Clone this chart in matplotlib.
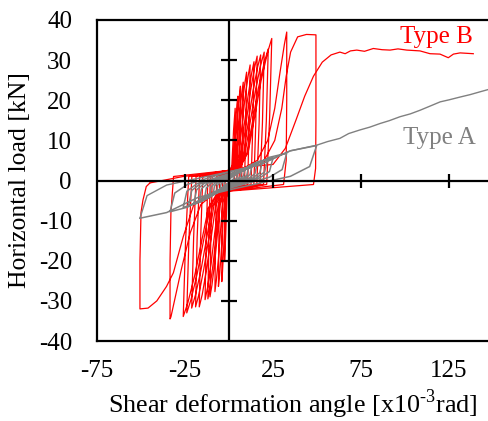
import matplotlib.pyplot as plt
from matplotlib import rcParams

rcParams['font.family'] = ['Liberation Serif', 'DejaVu Serif']
rcParams['font.size'] = 18
rcParams['axes.unicode_minus'] = False

# Type B (red): cyclic record, one row per cycle (disp x10^-3 rad, load kN)
typeB_disp = [0,
    0.9, 1.6, 2.1, 2.6, 3.2, 3.5, 3.3, 3.1, -0.6, -1.1, -1.5, -1.9, -2.3, -2.5, -2.4, -2.2,
    1.3, 2.3, 3.0, 3.8, 4.5, 5.0, 4.8, 4.4, -1.0, -1.8, -2.5, -3.1, -3.7, -4.1, -3.9, -3.6,
    1.6, 2.9, 3.9, 4.9, 5.9, 6.5, 6.2, 5.7, -1.5, -2.7, -3.6, -4.5, -5.4, -6.0, -5.7, -5.3,
    2.0, 3.6, 4.9, 6.1, 7.3, 8.1, 7.7, 7.1, -2.0, -3.6, -4.8, -6.0, -7.2, -8.0, -7.6, -7.0,
    2.5, 4.5, 6.0, 7.5, 9.0, 10.0, 9.5, 8.8, -2.7, -4.9, -6.5, -8.1, -9.7, -10.8, -10.3, -9.5,
    3.0, 5.4, 7.2, 9.0, 10.8, 12.0, 11.4, 10.6, -3.0, -5.4, -7.2, -9.0, -10.8, -12.0, -11.4, -10.6,
    3.6, 6.4, 8.5, 10.7, 12.8, 14.2, 13.5, 12.5, -3.4, -6.1, -8.2, -10.2, -12.2, -13.6, -12.9, -12.0,
    4.0, 7.2, 9.6, 12.0, 14.4, 16.0, 15.2, 14.1, -4.2, -7.6, -10.1, -12.7, -15.2, -16.9, -16.1, -14.9,
    4.5, 8.1, 10.8, 13.5, 16.2, 18.0, 17.1, 15.8, -4.8, -8.6, -11.4, -14.3, -17.1, -19.0, -18.1, -16.7,
    5.0, 9.0, 12.0, 15.0, 18.0, 20.0, 19.0, 17.6, -5.3, -9.5, -12.7, -15.9, -19.1, -21.2, -20.1, -18.7,
    5.6, 10.0, 13.4, 16.7, 20.1, 22.3, 21.2, 19.6, -6.0, -10.8, -14.4, -18.0, -21.6, -24.0, -22.8, -21.1,
    6.1, 10.9, 14.6, 18.2, 21.9, 24.3, 23.1, 21.4, -6.5, -11.7, -15.6, -19.5, -23.4, -26.0, -24.7, -22.9,
    8, 16, 22, 26, 29, 31.5, 32.8, 32.8, 32.5, 31, -8, -16, -22, -27, -31, -33, -33.5, -33.5, -33, -31.5,
    10, 20, 26, 30, 32.5, 35, 39, 44, 49.4, 49.4, 49.2, 48, -10, -20, -26, -31.6, -35.5, -41, -46, -50.6,
    -50.6, -50.0, -48.9, -47.0, -44.9]
typeB_load = [0,
    3, 3.6, 8.1, 12.6, 16.2, 18, 8.1, -1, -3, -4, -9, -14, -18, -20, -9, 1,
    3, 4.2, 9.5, 14.7, 18.9, 21, 9.5, -1, -3, -5, -11.3, -17.6, -22.7, -25.2, -11.3, 1,
    3, 4.7, 10.6, 16.5, 21.2, 23.5, 10.6, -1, -3, -5.3, -11.9, -18.5, -23.8, -26.4, -11.9, 1,
    3, 4.9, 11, 17.2, 22, 24.5, 11, -1, -3, -5.5, -12.5, -19.4, -24.9, -27.7, -12.5, 1,
    3, 5.4, 12.2, 18.9, 24.3, 27, 12.2, -1, -3, -5.8, -13, -20.3, -26.1, -29, -13, 1,
    3, 5.8, 13, 20.2, 25.9, 28.8, 13, -1, -3, -5.9, -13.3, -20.7, -26.6, -29.5, -13.3, 1,
    3, 5.9, 13.3, 20.7, 26.6, 29.6, 13.3, -1, -3, -5.9, -13.4, -20.8, -26.7, -29.7, -13.4, 1,
    3, 6.2, 14, 21.7, 27.9, 31, 14, -1, -3, -6.3, -14.2, -22, -28.4, -31.5, -14.2, 1,
    3, 6.3, 14.1, 21.9, 28.2, 31.3, 14.1, -1, -3, -6.3, -14.2, -22, -28.4, -31.5, -14.2, 1,
    3, 6.4, 14.4, 22.4, 28.8, 32, 14.4, -1, -3, -6.4, -14.3, -22.3, -28.6, -31.8, -14.3, 1,
    3, 6.6, 14.8, 23, 29.5, 32.8, 14.8, -1, -3, -6.6, -14.9, -23.1, -29.7, -33, -14.9, 1,
    3, 7.1, 15.9, 24.8, 31.9, 35.4, 15.9, -1, -3, -6.8, -15.3, -23.7, -30.5, -33.9, -15.3, 1,
    3, 5, 10, 18, 27, 34, 37, 20, 5, -1, -3, -6, -13, -22, -30, -34, -34.5, -20, -8, 1,
    3, 5, 10, 18, 26, 32, 35.8, 36.4, 36.3, 15, 3, -1, -3, -6, -14, -23, -26.4, -30, -31.8, -32,
    -20, -8, -4.9, -1.5, -0.6]

# Type B final monotonic push
typeB_push_disp = [-44.9, -26, 0, 12, 25, 32, 38, 43, 48, 53, 58, 63, 66, 69, 72.6, 77, 82,
                   87, 91.5, 96, 101, 108.5, 114.2, 119.9, 124.6, 127.5, 131.3, 138.8]
typeB_push_load = [-0.6, 1, 2.5, 3.5, 4, 8, 15, 21, 26, 29.5, 31.3, 32, 31.6, 32.3, 32.5, 32.2, 32.9,
                   32.6, 32.5, 32.8, 32.5, 32.3, 31.6, 31.5, 30.6, 31.5, 31.8, 31.6]

# Type A (gray): cyclic record
typeA_disp = [0,
    1.05, 2.1, 3, 2.76, 2.1, 0, -1.05, -2.1, -3,
    -2.76, -2.1, 0, 1.75, 3.5, 5, 4.6, 3.5, 0, -1.75, -3.5, -5,
    -4.6, -3.5, 0, 2.45, 4.9, 7, 6.44, 4.9, 0, -2.45, -4.9, -7,
    -6.44, -4.9, 0, 3.15, 6.3, 9, 8.28, 6.3, 0, -3.15, -6.3, -9,
    -8.28, -6.3, 0, 3.85, 7.7, 11, 10.12, 7.7, 0, -3.85, -7.7, -11,
    -10.12, -7.7, 0, 4.55, 9.1, 13, 11.96, 9.1, 0, -4.9, -9.8, -14,
    -12.88, -9.8, 0, 5.6, 11.2, 16, 14.72, 11.2, 0, -5.95, -11.9, -17,
    -15.64, -11.9, 0, 6.65, 13.3, 19, 17.48, 13.3, 0, -7, -14, -20,
    -18.4, -14, 0, 7.7, 15.4, 22, 20.24, 15.4, 0, -8.05, -16.1, -23,
    -21.16, -16.1, 0, 8.75, 17.5, 25, 23, 17.5, 0, -9.1, -18.2, -26,
    -23.92, -18.2, 0, 11.48, 22.96, 32.8, 30.18, 22.96, 0, -11.73, -23.45, -33.5,
    -30.82, -23.45, 0, 17.43, 34.86, 49.8, 45.82, 34.86, 0, -17.71, -35.42, -50.6]
typeA_load = [0,
    0.68, 1.28, 1.5, 0.6, 0.18, -0.45, -0.81, -1.53, -1.8,
    -0.72, -0.22, 0.5, 0.9, 1.7, 2, 0.8, 0.24, -0.63, -1.13, -2.13, -2.5,
    -1.0, -0.3, 0.63, 1.13, 2.13, 2.5, 1.0, 0.3, -0.75, -1.35, -2.55, -3,
    -1.2, -0.36, 0.75, 1.35, 2.55, 3, 1.2, 0.36, -0.88, -1.58, -2.98, -3.5,
    -1.4, -0.42, 0.83, 1.49, 2.81, 3.3, 1.32, 0.4, -1.0, -1.8, -3.4, -4,
    -1.6, -0.48, 0.93, 1.67, 3.15, 3.7, 1.48, 0.44, -1.15, -2.07, -3.91, -4.6,
    -1.84, -0.55, 1.05, 1.89, 3.57, 4.2, 1.68, 0.5, -1.3, -2.34, -4.42, -5.2,
    -2.08, -0.62, 1.2, 2.16, 4.08, 4.8, 1.92, 0.58, -1.45, -2.61, -4.93, -5.8,
    -2.32, -0.7, 1.33, 2.39, 4.5, 5.3, 2.12, 0.64, -1.55, -2.79, -5.27, -6.2,
    -2.48, -0.74, 1.4, 2.52, 4.76, 5.6, 2.24, 0.67, -1.68, -3.02, -5.7, -6.7,
    -2.68, -0.8, 1.7, 3.06, 5.78, 6.8, 2.72, 0.82, -1.95, -3.51, -6.63, -7.8,
    -3.12, -0.94, 2.18, 3.92, 7.4, 8.7, 3.48, 1.04, -2.35, -4.23, -7.99, -9.4]

# Type A final monotonic push
typeA_push_disp = [-50.6, -46.55, -35.42, 0, 17.43, 34.86, 49.8, 56, 63, 68, 74.4, 80, 85.8, 91,
                   97.2, 103, 108.5, 114, 120, 125, 131.3, 137, 142.6, 150]
typeA_push_load = [-9.4, -3.76, -1.13, 2.18, 3.92, 7.4, 8.8, 9.7, 10.5, 11.7, 12.6, 13.3, 14.2, 14.9,
                   15.9, 16.6, 17.5, 18.5, 19.6, 20.1, 20.8, 21.4, 22.1, 23]

x_ticks = [-75, -25, 25, 75, 125]
y_ticks = [-40, -30, -20, -10, 0, 10, 20, 30, 40]

fig = plt.figure(figsize=(4.89, 4.21), dpi=100)
ax = fig.add_axes([97 / 489, 80 / 421, 396 / 489, 321 / 421])

ax.plot(typeB_disp, typeB_load, color='#ff0000', lw=0.9)
ax.plot(typeB_push_disp, typeB_push_load, color='#ff0000', lw=0.9)
ax.plot(typeA_disp, typeA_load, color='#808080', lw=1.1)
ax.plot(typeA_push_disp, typeA_push_load, color='#808080', lw=1.0)

# axes through the origin with crossing tick marks
ax.axhline(0, color='k', lw=1.6, zorder=4)
ax.axvline(0, color='k', lw=1.6, zorder=4)
ax.plot(x_ticks[1:], [0] * 4, ls='none', marker='|', ms=10, mew=1.6, color='k', zorder=4)
ax.plot([0] * 6, [-30, -20, -10, 10, 20, 30], ls='none', marker='_', ms=11, mew=1.6, color='k', zorder=4)

ax.set_xlim(-75, 150)
ax.set_ylim(-40, 40)
ax.set_xticks(x_ticks)
ax.set_yticks(y_ticks)
ax.tick_params(length=0, labelsize=18)
ax.tick_params(axis='y', pad=18)
ax.tick_params(axis='x', pad=14)
for s in ['left', 'top', 'bottom']:
    ax.spines[s].set_linewidth(1.6)
ax.spines['right'].set_visible(False)

fig.text(293 / 489, 8 / 421, 'Shear deformation angle [x10$^{\\mathregular{\u20103}}$rad]',
         fontsize=18.8, ha='center', va='baseline')
fig.text(20 / 489, 1 - 180.5 / 421, 'Horizontal load [kN]', fontsize=18.5,
         rotation=90, ha='center', va='center')

ax.text(97.2, 34.3, 'Type B', color='#ff0000', fontsize=18)
ax.text(98.9, 9.1, 'Type A', color='#808080', fontsize=18)

plt.savefig('out.png', dpi=100)
